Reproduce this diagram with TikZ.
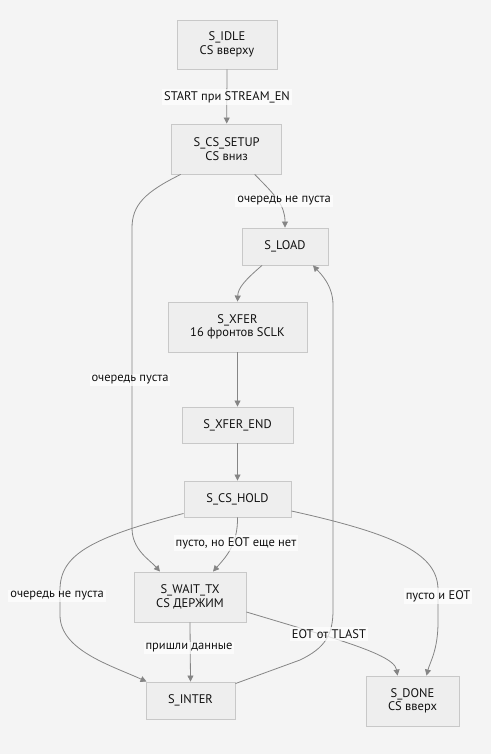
\documentclass[tikz,border=0pt]{standalone}
\usepackage{fontspec}
\setmainfont{PT Sans}
\usetikzlibrary{arrows.meta}
\definecolor{bgc}{HTML}{F4F4F4}
\definecolor{boxfill}{HTML}{EEEEEE}
\definecolor{boxline}{HTML}{C8C8C8}
\definecolor{edgec}{HTML}{858585}
\definecolor{txt}{HTML}{111111}
\begin{document}
\begin{tikzpicture}[x=1pt,y=-1pt,
  state/.style={draw=boxline, line width=0.9pt, fill=boxfill, inner sep=0pt, align=center,
    text=txt, font=\fontsize{12.5}{13.5}\selectfont},
  edge/.style={draw=edgec, line width=0.8pt, -{Triangle[length=6pt,width=6pt]}},
  elabel/.style={fill=white, fill opacity=0.7, text opacity=1, text=txt, inner xsep=2pt, inner ysep=2pt,
    font=\fontsize{12.5}{13.5}\selectfont}
]
\fill[bgc] (0,0) rectangle (491,754);
\useasboundingbox (0,0) rectangle (491,754);

\node[state, minimum width=100pt, minimum height=49pt] (idle) at (227,44.5) {S\_IDLE\\CS вверху};
\node[state, minimum width=110pt, minimum height=50pt] (setup) at (226.7,149) {S\_CS\_SETUP\\CS вниз};
\node[state, minimum width=86pt, minimum height=37pt] (load) at (285,246.5) {S\_LOAD};
\node[state, minimum width=139pt, minimum height=50pt] (xfer) at (237.5,327) {S\_XFER\\16 фронтов SCLK};
\node[state, minimum width=111pt, minimum height=36pt] (xend) at (237.5,425) {S\_XFER\_END};
\node[state, minimum width=107pt, minimum height=36pt] (hold) at (237.5,499) {S\_CS\_HOLD};
\node[state, minimum width=112pt, minimum height=50pt] (wait) at (190,597) {S\_WAIT\_TX\\CS ДЕРЖИМ};
\node[state, minimum width=89pt, minimum height=37pt] (inter) at (190.5,700.5) {S\_INTER};
\node[state, minimum width=93pt, minimum height=50pt] (done) at (412.5,701) {S\_DONE\\CS вверх};

% edges
\draw[edge] (idle.south) -- (setup.north);
\draw[edge] ([xshift=28pt]setup.south) .. controls (275,195) and (285,205) .. (load.north);
\draw[edge] ([xshift=-46pt]setup.south) .. controls (145,192) and (132,205) .. (132,228) -- (132,528) .. controls (132,550) and (150,560) .. ([xshift=-30pt]wait.north);
\draw[edge] ([xshift=-23pt]load.south) .. controls (245,280) and (238,288) .. (xfer.north);
\draw[edge] (xfer.south) -- (xend.north);
\draw[edge] (xend.south) -- (hold.north);
\draw[edge] (hold.south) .. controls (238,545) and (225,558) .. ([xshift=23pt]wait.north);
\draw[edge] ([yshift=4pt]hold.south west) .. controls (90,538) and (60,555) .. (60,590) -- (60,615) .. controls (60,650) and (110,665) .. ([xshift=-44pt]inter.north);
\draw[edge] ([yshift=-12pt]hold.east) .. controls (400,535) and (438,555) .. (438,590) -- (438,622) .. controls (438,650) and (430,662) .. ([xshift=14pt]done.north);
\draw[edge] (wait.south) -- (inter.north);
\draw[edge] ([yshift=-15pt]wait.east) -- (320,634) .. controls (372,650) and (395,660) .. ([xshift=-15pt]done.north);
\draw[edge] ([yshift=-2pt]inter.north east) -- (300,660) .. controls (325,648) and (333,635) .. (333,610) -- (333,305) .. controls (333,285) and (320,273) .. ([xshift=28pt]load.south);

% labels
\node[elabel] (l1) at (227,97) {START при STREAM\_EN};
\node[elabel] (l2) at (284,201) {очередь не пуста};
\node[elabel] (l3) at (130,380) {очередь пуста};
\node[elabel] (l7) at (236,543) {пусто, но EOT еще нет};
\node[elabel] (l8) at (57,596) {очередь не пуста};
\node[elabel] (l9) at (438,596) {пусто и EOT};
\node[elabel] (l10) at (189,648) {пришли данные};
\node[elabel] (l11) at (329,634) {EOT от TLAST};
\end{tikzpicture}
\end{document}
